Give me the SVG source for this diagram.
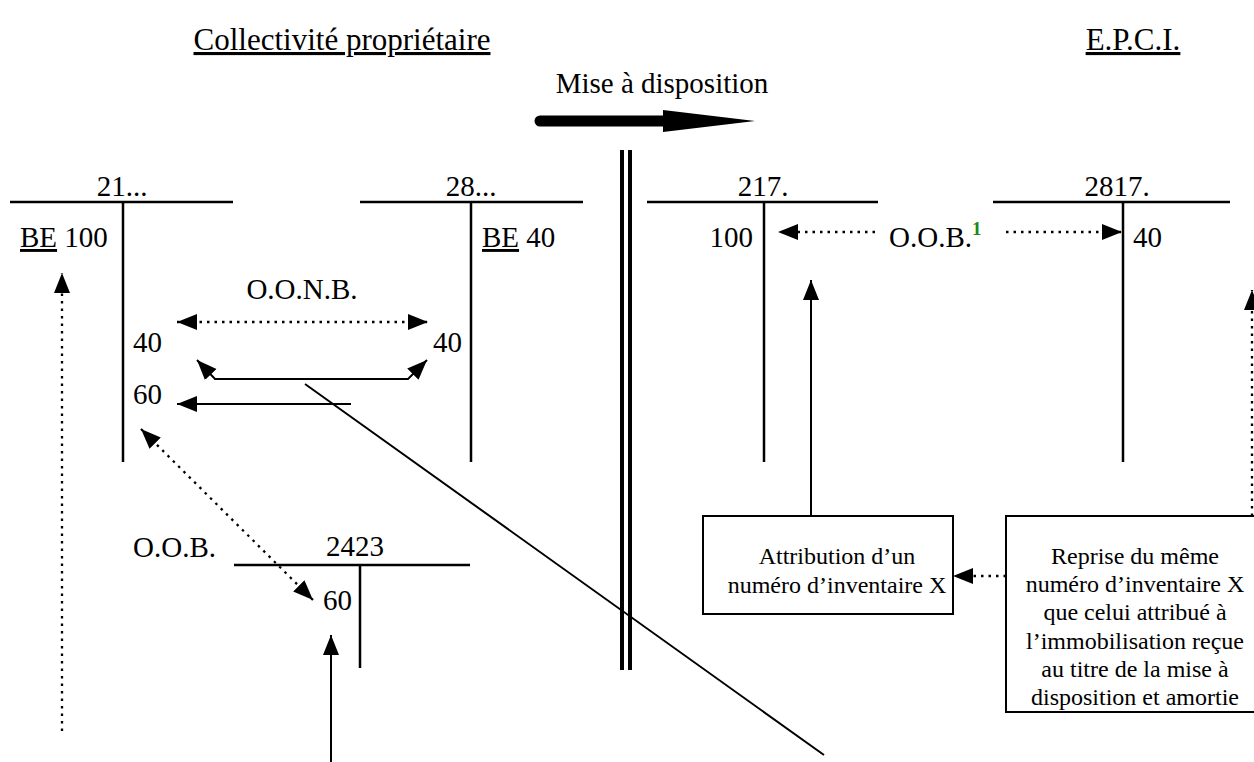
<svg xmlns="http://www.w3.org/2000/svg" width="1254" height="762" viewBox="0 0 1254 762">
  <defs>
    <marker id="ah" markerUnits="userSpaceOnUse" markerWidth="22" markerHeight="18" refX="20" refY="8" orient="auto-start-reverse">
      <path d="M0,0 L20,8 L0,16 z" fill="#000"/>
    </marker>
  </defs>
  <style>
    text { font-family: "Liberation Serif", "Times New Roman", serif; fill: #000; font-size: 29px; }
    .mid { text-anchor: middle; }
    .end { text-anchor: end; }
    .u { text-decoration: underline; }
    .hd { font-size: 31px; }
    .bx { font-size: 24px; text-anchor: middle; }
    .acc { stroke: #000; stroke-width: 2.5; fill: none; }
    .sol { stroke: #000; stroke-width: 2; fill: none; }
    .dot { stroke: #000; stroke-width: 2.3; stroke-dasharray: 2.5 5; fill: none; }
    .box { stroke: #000; stroke-width: 2; fill: #fff; }
    .sup { font-size: 19px; font-weight: bold; fill: #1a8a1a; }
  </style>

  <!-- headings -->
  <g id="headings">
    <text class="mid u hd" x="342" y="50">Collectivité propriétaire</text>
    <text class="mid u hd" x="1133" y="50">E.P.C.I.</text>
    <text class="mid" x="662" y="93">Mise à disposition</text>
  </g>

  <!-- transfer arrow and separator -->
  <g id="transfer">
    <line x1="540" y1="121" x2="664" y2="121" stroke="#000" stroke-width="11" stroke-linecap="round"/>
    <polygon points="663,110 755,121 663,132" fill="#000"/>
  </g>
  <g id="separator">
    <rect x="620" y="150" width="4" height="520" fill="#000"/>
    <rect x="628" y="150" width="4" height="520" fill="#000"/>
  </g>

  <!-- T accounts -->
  <g id="acc-21">
    <text class="mid" x="122" y="196">21...</text>
    <path class="acc" d="M10,202 H233 M123,202 V462"/>
    <text x="20" y="247"><tspan class="u">BE</tspan> 100</text>
    <text x="133" y="352">40</text>
    <text x="133" y="404">60</text>
  </g>
  <g id="acc-28">
    <text class="mid" x="471" y="196">28...</text>
    <path class="acc" d="M360,202 H583 M471,202 V462"/>
    <text x="482" y="247"><tspan class="u">BE</tspan> 40</text>
    <text x="433" y="352">40</text>
  </g>
  <g id="acc-2423">
    <text x="133" y="557">O.O.B.</text>
    <text class="mid" x="355" y="556">2423</text>
    <path class="acc" d="M234,565 H470 M360,565 V668"/>
    <text x="323" y="610">60</text>
  </g>
  <g id="acc-217">
    <text class="mid" x="763" y="196">217.</text>
    <path class="acc" d="M647,202 H878 M764,202 V462"/>
    <text class="end" x="753" y="247">100</text>
  </g>
  <g id="acc-2817">
    <text class="mid" x="1117" y="196">2817.</text>
    <path class="acc" d="M993,202 H1230 M1123,202 V462"/>
    <text x="1133" y="247">40</text>
  </g>

  <!-- operation labels -->
  <g id="label-oonb">
    <text class="mid" x="302" y="299">O.O.N.B.</text>
  </g>
  <g id="label-oob">
    <text x="889" y="247">O.O.B.</text>
    <text class="sup" x="972" y="235">1</text>
  </g>

  <!-- boxes -->
  <g id="box-attribution">
    <rect class="box" x="703" y="516" width="250" height="98"/>
    <text class="bx" x="837" y="564">Attribution d’un</text>
    <text class="bx" x="837" y="593">numéro d’inventaire X</text>
  </g>
  <g id="box-reprise">
    <rect class="box" x="1006" y="516" width="260" height="196"/>
    <text class="bx" x="1135" y="564">Reprise du même</text>
    <text class="bx" x="1135" y="592">numéro d’inventaire X</text>
    <text class="bx" x="1135" y="620">que celui attribué à</text>
    <text class="bx" x="1135" y="649">l’immobilisation reçue</text>
    <text class="bx" x="1135" y="677">au titre de la mise à</text>
    <text class="bx" x="1135" y="705">disposition et amortie</text>
  </g>

  <!-- connectors -->
  <g id="connectors">
    <path class="dot" d="M177,322 H428" marker-start="url(#ah)" marker-end="url(#ah)"/>
    <path class="sol" d="M197,360 L215,379 H408 L427,360" marker-start="url(#ah)" marker-end="url(#ah)"/>
    <path class="sol" d="M351,404 H177" marker-end="url(#ah)"/>
    <line class="sol" x1="305" y1="384" x2="824" y2="755"/>
    <path class="dot" d="M141,429 L313,600" marker-start="url(#ah)" marker-end="url(#ah)"/>
    <path class="sol" d="M331,762 V635" marker-end="url(#ah)"/>
    <path class="dot" d="M62,731 V273" marker-end="url(#ah)"/>
    <path class="dot" d="M875,232 H778" marker-end="url(#ah)"/>
    <path class="dot" d="M1006,232 H1122" marker-end="url(#ah)"/>
    <path class="sol" d="M811,516 V280" marker-end="url(#ah)"/>
    <path class="dot" d="M1252,516 V290" marker-end="url(#ah)"/>
    <path class="dot" d="M1006,576 H953" marker-end="url(#ah)"/>
  </g>
</svg>
